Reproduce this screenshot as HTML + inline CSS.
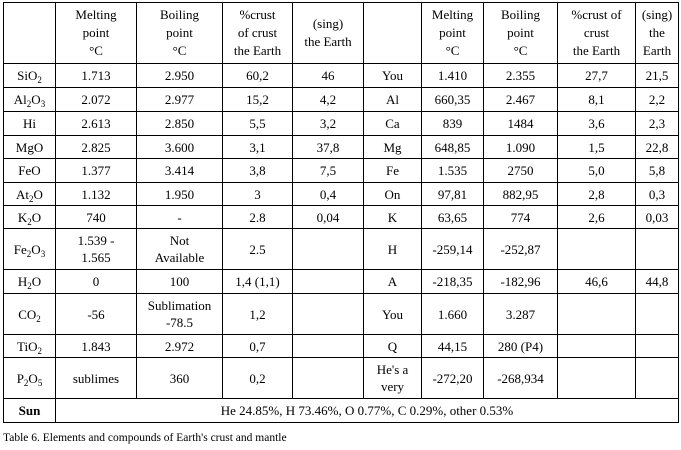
<!DOCTYPE html>
<html><head><meta charset="utf-8"><style>
html,body{margin:0;padding:0;background:#fff;width:681px;height:450px;overflow:hidden}
table{position:absolute;left:3px;top:2px;border-collapse:collapse;table-layout:fixed;font-family:"Liberation Serif",serif;font-size:13px;color:#000}
td{border:1px solid #000;text-align:center;padding:0;line-height:17px;vertical-align:middle}
tr.h td{line-height:18px}
sub{font-size:9px;vertical-align:-3px;line-height:0}
.cap{position:absolute;left:3px;top:432px;font-family:"Liberation Serif",serif;font-size:11.5px;color:#000}
</style></head><body>
<table>
<colgroup><col style="width:52px"><col style="width:81px"><col style="width:86px"><col style="width:70px"><col style="width:71px"><col style="width:58px"><col style="width:62px"><col style="width:74px"><col style="width:78px"><col style="width:43px"></colgroup>
<tr class="h" style="height:61px"><td></td><td>Melting<br>point<br>°C</td><td>Boiling<br>point<br>°C</td><td>%crust<br>of crust<br>the Earth</td><td>(sing)<br>the Earth</td><td></td><td>Melting<br>point<br>°C</td><td>Boiling<br>point<br>°C</td><td>%crust of<br>crust<br>the Earth</td><td>(sing)<br>the<br>Earth</td></tr>
<tr style="height:24px"><td>SiO<sub>2</sub></td><td>1.713</td><td>2.950</td><td>60,2</td><td>46</td><td>You</td><td>1.410</td><td>2.355</td><td>27,7</td><td>21,5</td></tr>
<tr style="height:24px"><td>Al<sub>2</sub>O<sub>3</sub></td><td>2.072</td><td>2.977</td><td>15,2</td><td>4,2</td><td>Al</td><td>660,35</td><td>2.467</td><td>8,1</td><td>2,2</td></tr>
<tr style="height:24px"><td>Hi</td><td>2.613</td><td>2.850</td><td>5,5</td><td>3,2</td><td>Ca</td><td>839</td><td>1484</td><td>3,6</td><td>2,3</td></tr>
<tr style="height:23px"><td>MgO</td><td>2.825</td><td>3.600</td><td>3,1</td><td>37,8</td><td>Mg</td><td>648,85</td><td>1.090</td><td>1,5</td><td>22,8</td></tr>
<tr style="height:24px"><td>FeO</td><td>1.377</td><td>3.414</td><td>3,8</td><td>7,5</td><td>Fe</td><td>1.535</td><td>2750</td><td>5,0</td><td>5,8</td></tr>
<tr style="height:23px"><td>At<sub>2</sub>O</td><td>1.132</td><td>1.950</td><td>3</td><td>0,4</td><td>On</td><td>97,81</td><td>882,95</td><td>2,8</td><td>0,3</td></tr>
<tr style="height:23px"><td>K<sub>2</sub>O</td><td>740</td><td>-</td><td>2.8</td><td>0,04</td><td>K</td><td>63,65</td><td>774</td><td>2,6</td><td>0,03</td></tr>
<tr style="height:41px"><td>Fe<sub>2</sub>O<sub>3</sub></td><td>1.539 -<br>1.565</td><td>Not<br>Available</td><td>2.5</td><td></td><td>H</td><td>-259,14</td><td>-252,87</td><td></td><td></td></tr>
<tr style="height:24px"><td>H<sub>2</sub>O</td><td>0</td><td>100</td><td>1,4 (1,1)</td><td></td><td>A</td><td>-218,35</td><td>-182,96</td><td>46,6</td><td>44,8</td></tr>
<tr style="height:41px"><td>CO<sub>2</sub></td><td>-56</td><td>Sublimation<br>-78.5</td><td>1,2</td><td></td><td>You</td><td>1.660</td><td>3.287</td><td></td><td></td></tr>
<tr style="height:23px"><td>TiO<sub>2</sub></td><td>1.843</td><td>2.972</td><td>0,7</td><td></td><td>Q</td><td>44,15</td><td>280 (P4)</td><td></td><td></td></tr>
<tr style="height:41px"><td>P<sub>2</sub>O<sub>5</sub></td><td>sublimes</td><td>360</td><td>0,2</td><td></td><td>He's a<br>very</td><td>-272,20</td><td>-268,934</td><td></td><td></td></tr>
<tr style="height:24px"><td><b>Sun</b></td><td colspan="9">He 24.85%, H 73.46%, O 0.77%, C 0.29%, other 0.53%</td></tr>
</table>
<div class="cap">Table 6. Elements and compounds of Earth's crust and mantle</div>
</body></html>
